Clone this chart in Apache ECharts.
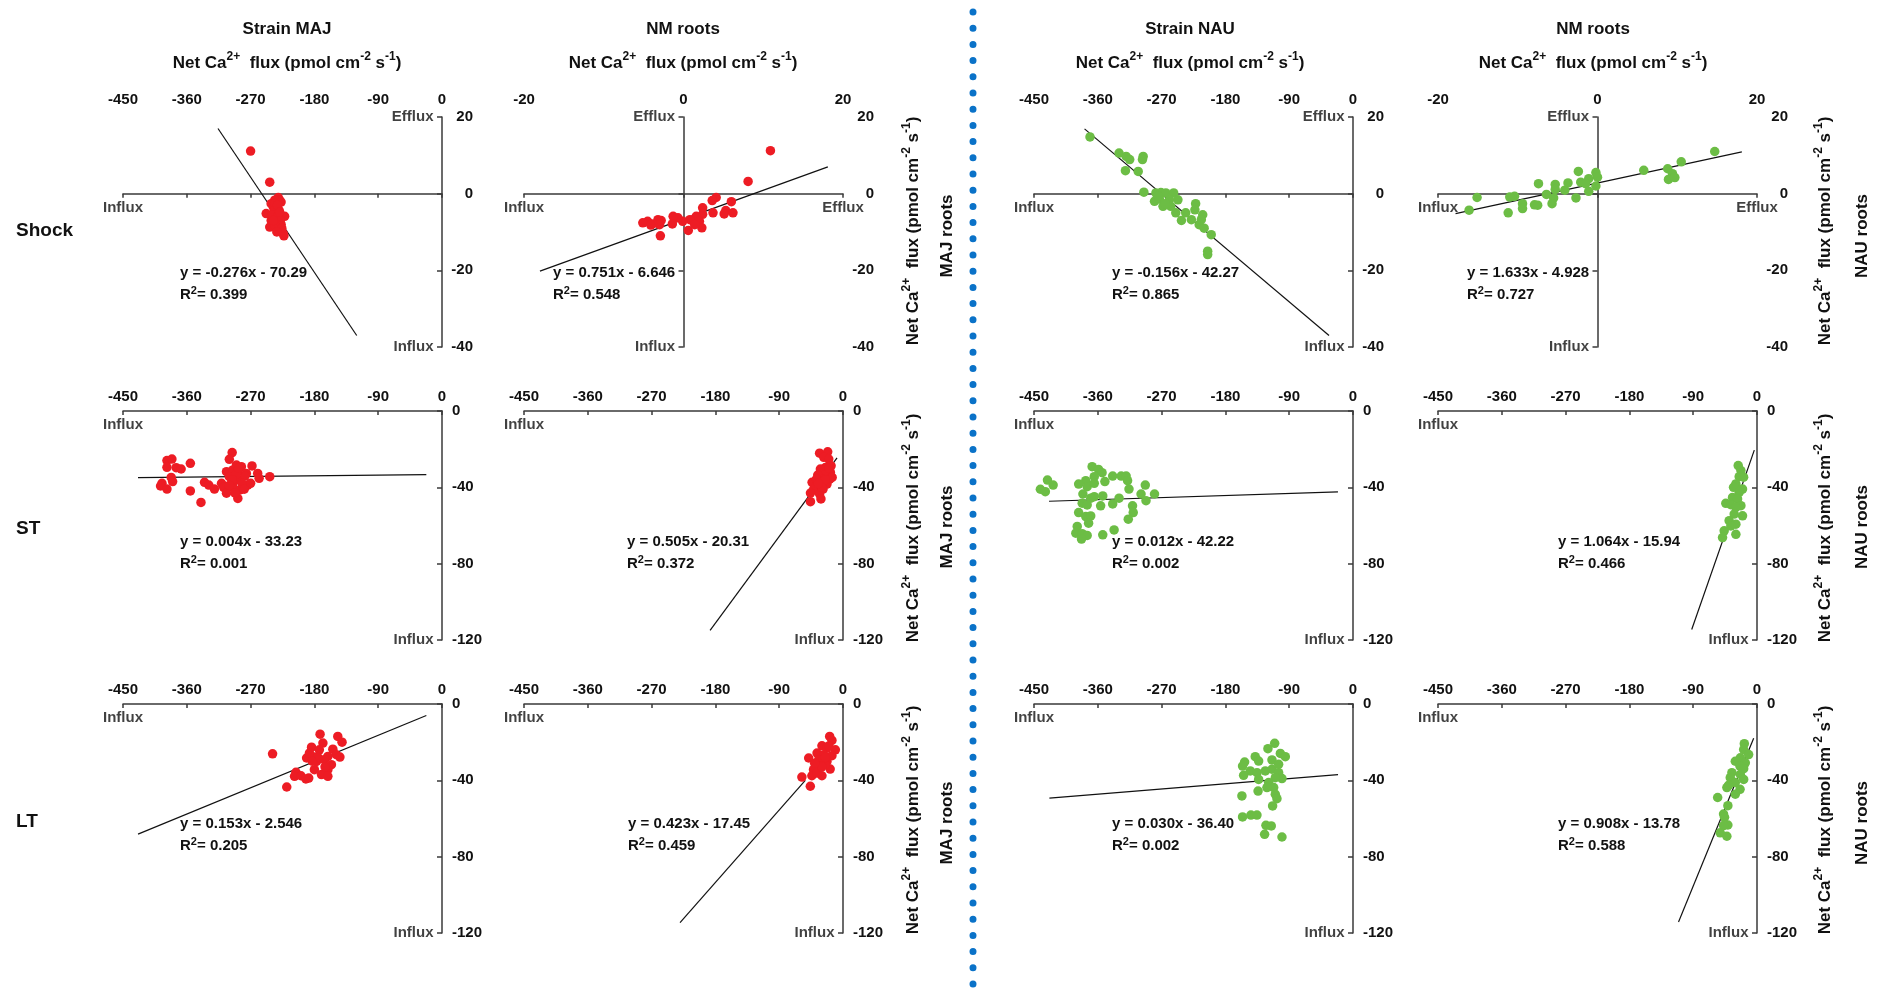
<!DOCTYPE html>
<html>
<head>
<meta charset="utf-8">
<script src="https://cdn.jsdelivr.net/npm/echarts@6/dist/echarts.min.js"></script>
<style>
  html, body { margin: 0; padding: 0; background: #fff; }
  #chart { width: 1877px; height: 991px; }
</style>
</head>
<body>
<div id="chart"></div>
<script>
const FONT = '"Liberation Sans", Arial, Helvetica, sans-serif';
const RED = '#ed1c24';
const GREEN = '#6cbd45';
const AXIS = '#3a3a3a';

// tick labels
const xTicksStrain = [-450, -360, -270, -180, -90, 0];
const xTicksNm = [-20, 0, 20];
const yTicksShock = [-40, -20, 0, 20];
const yTicksStress = [-120, -80, -40, 0];

const rowNames = ['Shock', 'ST', 'LT'];
const colHeads = ['Strain MAJ', 'NM roots', 'Strain NAU', 'NM roots'];
const sideNames = ['MAJ roots', 'NAU roots'];

// --- Shock ---
const majShockX = [-270, -243, -231, -229, -236, -227, -241, -238, -248, -234, -222, -229, -241, -234, -243, -227, -231, -224, -223, -238, -230, -236, -236, -232, -240, -228, -236, -226, -232, -238, -229, -233];
const majShockY = [11.1, 3.0, -1.0, -1.7, -1.7, -2.2, -2.6, -3.5, -5.2, -5.2, -5.9, -6.5, -7.0, -7.4, -8.7, -8.0, -9.6, -10.4, -11.0, -6.1, -4.3, -4.2, -2.5, -3.0, -5.5, -6.9, -8.2, -9.0, -6.0, -7.0, -4.8, -10.0];
const nmMajShockX = [10.9, 8.1, 4.1, 3.6, 6.0, 2.4, 5.3, 6.2, 5.1, 3.7, 2.4, 1.6, 0.8, 2.0, 2.3, 0.6, -0.1, -0.7, -1.3, -1.4, -2.8, -3.2, -3.0, -3.9, -4.5, -5.1, -2.9, -4.1, 1.4];
const nmMajShockY = [11.2, 3.2, -1.0, -1.8, -2.1, -3.7, -4.4, -5.0, -5.3, -5.0, -5.4, -5.9, -6.8, -7.2, -8.9, -9.6, -7.2, -6.3, -5.9, -7.9, -7.0, -6.8, -8.1, -7.9, -7.2, -7.6, -11.0, -8.2, -8.1];
const nauShockX = [-371, -330, -320, -315, -296, -297, -321, -303, -295, -278, -271, -264, -253, -280, -273, -268, -259, -257, -247, -250, -242, -236, -228, -222, -223, -212, -217, -210, -200, -205, -205, -214, -275, -265];
const nauShockY = [14.8, 10.6, 9.7, 8.9, 9.7, 8.9, 6.0, 5.8, 0.4, 0.2, 0.3, 0.2, 0.2, -2.0, -1.4, -3.3, -1.6, -3.3, -1.6, -5.0, -7.0, -5.0, -6.8, -2.6, -4.2, -5.5, -8.1, -9.0, -10.7, -15.0, -15.9, -6.8, -0.7, -2.6];
const nmNauShockX = [14.7, 10.5, 8.8, 9.4, 8.9, 9.7, 5.8, -2.4, -0.2, 0, -1.1, -2.1, -3.7, -1.5, -0.2, -5.3, -7.4, -4.1, -5.3, -1.1, -6.4, -5.5, -2.7, -10.4, -11.0, -15.1, -9.4, -9.4, -7.9, -7.5, -5.7, -11.2, -16.1];
const nmNauShockY = [11.0, 8.3, 6.5, 5.2, 3.7, 4.2, 6.1, 5.8, 5.5, 4.3, 3.9, 3.0, 2.8, 2.6, 2.0, 2.4, 2.6, 0.9, 1.1, 0.6, -0.2, -1.1, -1.1, -0.7, -0.9, -1.0, -2.6, -3.9, -2.9, -3.0, -2.6, -5.0, -4.3];

// --- ST ---
const majStX = [-296, -300, -388, -381, -355, -388, -375, -368, -290, -283, -268, -304, -295, -288, -276, -260, -243, -258, -382, -380, -395, -397, -388, -355, -335, -329, -321, -340, -311, -308, -304, -295, -285, -288, -285, -293, -274, -270, -278, -300, -290, -282, -296, -287, -279, -300, -292];
const majStY = [-21.8, -25.3, -26.0, -25.2, -27.4, -29.5, -29.7, -30.4, -28.3, -29.2, -28.8, -31.8, -30.9, -31.8, -32.7, -32.7, -34.4, -35.3, -34.8, -37.0, -37.9, -39.3, -40.9, -41.9, -37.4, -38.8, -40.9, -47.9, -37.9, -40.0, -43.1, -37.9, -36.2, -45.8, -41.4, -40.9, -38.8, -37.9, -34.1, -34.4, -33.0, -38.0, -36.0, -30.0, -41.0, -39.0, -43.0];
const nmMajStX = [-33, -21.6, -27.1, -20.1, -16.8, -24.8, -31.9, -17.8, -26.2, -35.6, -18.7, -26.2, -43.6, -22.6, -36.5, -41.3, -28.1, -45.9, -33, -45.9, -31.1, -15.3, -29.4, -37.4, -25, -30, -20, -35];
const nmMajStY = [-22.1, -21.4, -24.3, -25.2, -28.7, -29.6, -30.4, -32.2, -33.6, -33.6, -35.7, -37.0, -37.4, -38.3, -39.1, -40.9, -40.9, -43.0, -43.5, -47.5, -46.1, -34.8, -35.7, -35.7, -36, -40, -30, -38];
const nauStX = [-441, -434, -431, -423, -368, -359, -354, -365, -377, -387, -375, -365, -350, -339, -327, -320, -318, -316, -381, -365, -353, -330, -339, -356, -382, -375, -387, -377, -370, -373, -311, -310, -317, -293, -299, -292, -280, -389, -391, -382, -375, -383, -353, -337, -370];
const nauStY = [-41.0, -42.3, -36.2, -38.8, -29.2, -30.6, -32.3, -34.4, -36.5, -38.3, -39.7, -37.9, -37.0, -34.1, -34.1, -34.1, -36.5, -40.9, -43.5, -44.9, -44.5, -45.7, -48.7, -49.7, -48.3, -49.2, -53.2, -55.3, -55.0, -58.8, -49.7, -53.2, -56.7, -38.8, -43.5, -47.0, -43.5, -60.5, -64.0, -64.3, -65.2, -67.1, -64.9, -62.3, -45.7];
const nmNauStX = [-26.5, -22.7, -25.1, -18.9, -29.8, -33.1, -20.4, -25.1, -34.5, -27.4, -44, -36.9, -22.7, -29.8, -20.4, -32.2, -39.3, -29.8, -46.3, -48.6, -29.8, -36.9];
const nmNauStY = [-28.6, -31.2, -34.4, -34.7, -38.2, -40.0, -40.9, -42.6, -45.3, -46.1, -48.4, -49.1, -49.6, -50.5, -54.9, -54.0, -57.5, -59.3, -62.8, -66.3, -64.6, -60.2];

// --- LT ---
const majLtX = [-239, -219, -172, -147, -141, -168, -184, -173, -154, -149, -161, -180, -191, -177, -166, -156, -161, -206, -208, -199, -192, -188, -170, -161, -180, -144, -187, -175, -165, -183];
const majLtY = [-26.1, -43.5, -15.8, -17.0, -20.0, -20.5, -22.6, -24.0, -23.7, -26.6, -27.5, -27.8, -28.3, -30.1, -29.2, -31.8, -34.4, -35.8, -37.9, -37.6, -39.3, -38.8, -37.0, -37.9, -34.4, -27.8, -25.7, -28.0, -33.0, -30.0];
const nmMajLtX = [-18.8, -15.6, -29.7, -22.6, -10.8, -36.6, -27.1, -15.6, -48.4, -34.2, -22.6, -32.2, -18.1, -41.6, -29.7, -43.9, -58, -46.1, -36.6, -24.8, -25, -30, -20, -40];
const nmMajLtY = [-17.0, -19.1, -21.9, -23.1, -24.0, -25.7, -26.6, -27.1, -28.3, -29.2, -30.1, -32.7, -34.1, -34.4, -37.6, -37.6, -38.3, -43.1, -36.2, -31.8, -28, -33, -22, -31];
const nauLtX = [-110.5, -120, -102.5, -95.5, -137.9, -133.1, -114.3, -152.9, -155.8, -144.9, -154.3, -135.4, -123.7, -114.3, -104.9, -100.2, -109.6, -133.1, -119, -111.9, -109.6, -107.3, -133.9, -156.7, -113.4, -155.8, -144, -135.5, -122.8, -115.3, -124.7, -100.2, -121.4, -104.9];
const nauLtY = [-20.6, -23.4, -25.9, -27.6, -27.6, -29.9, -29.3, -30.4, -32.5, -35.1, -37.4, -36.0, -35.1, -34.2, -36.0, -39.1, -38.6, -39.5, -41.2, -43.8, -47.3, -49.6, -45.6, -48.2, -53.4, -59.2, -58.2, -58.2, -63.6, -63.9, -68.3, -69.7, -43.8, -31.6];
const nmNauLtX = [-17.9, -18.8, -11.8, -23.5, -30.6, -16.5, -23.9, -18.8, -35.4, -23.5, -18.8, -37.7, -30.6, -40.1, -23.9, -30.6, -55.5, -41.1, -47.2, -45.8, -41.1, -47.2, -51.9, -42.5, -42.5];
const nmNauLtY = [-20.8, -23.9, -26.5, -28.2, -30.0, -30.8, -32.6, -33.9, -36.0, -36.9, -39.5, -38.6, -41.2, -42.6, -44.7, -47.3, -49.0, -53.3, -57.7, -59.4, -63.4, -63.7, -67.5, -69.3, -43.8];

// regression line end points (as drawn)
const fitLines = [
  [[-316, 17.0], [-120.3, -37.0]],
  [[-18.0, -20.2], [18.1, 7.0]],
  [[-378.7, 16.9], [-33.8, -37.0]],
  [[-17.8, -5.2], [18.1, 10.9]],
  [[-428.8, -34.9], [-22.1, -33.3]],
  [[-187.5, -115], [-8.4, -24.6]],
  [[-428.8, -47.3], [-21.2, -42.4]],
  [[-92.1, -114.5], [-3.8, -20.5]],
  [[-428.8, -68.2], [-22.1, -6.0]],
  [[-229.9, -114.6], [-53.2, -40.0]],
  [[-428.3, -49.3], [-21.1, -37.0]],
  [[-110.7, -114.2], [-4.7, -18.0]]
];
const equations = [
  'y = -0.276x - 70.29', 'y = 0.751x - 6.646', 'y = -0.156x - 42.27', 'y = 1.633x - 4.928',
  'y = 0.004x - 33.23', 'y = 0.505x - 20.31', 'y = 0.012x - 42.22', 'y = 1.064x - 15.94',
  'y = 0.153x - 2.546', 'y = 0.423x - 17.45', 'y = 0.030x - 36.40', 'y = 0.908x - 13.78'
];
const r2Values = ['0.399', '0.548', '0.865', '0.727', '0.001', '0.372', '0.002', '0.466', '0.205', '0.459', '0.002', '0.588'];

const panelX = [majShockX, nmMajShockX, nauShockX, nmNauShockX, majStX, nmMajStX, nauStX, nmNauStX, majLtX, nmMajLtX, nauLtX, nmNauLtX];
const panelY = [majShockY, nmMajShockY, nauShockY, nmNauShockY, majStY, nmMajStY, nauStY, nmNauStY, majLtY, nmMajLtY, nauLtY, nmNauLtY];

// layout
const colLeft = [123, 524, 1034, 1438];
const rowTop = [117, 411, 704];
const gridW = 319;
const gridH = [230, 229, 229];
const eqPos = [
  [180, 273], [553, 273], [1112, 273], [1467, 273],
  [180, 542], [627, 542], [1112, 542], [1558, 542],
  [180, 824], [628, 824], [1112, 824], [1558, 824]
];

const txt = { color: '#111', fontSize: 15, fontWeight: 'bold', fontFamily: FONT };

const chart = echarts.init(document.getElementById('chart'));
const grid = [], xAxis = [], yAxis = [], series = [], graphic = [];

panelX.forEach((xs, i) => {
  const r = Math.floor(i / 4), c = i % 4;
  const xt = (r === 0 && c % 2 === 1) ? xTicksNm : xTicksStrain;
  const yt = r === 0 ? yTicksShock : yTicksStress;
  const xr = { min: xt[0], max: xt[xt.length - 1], interval: xt[1] - xt[0] };
  const yr = { min: yt[0], max: yt[yt.length - 1], interval: yt[1] - yt[0] };
  grid.push({ left: colLeft[c], top: rowTop[r], width: gridW, height: gridH[r] });

  // x: labels on top, line crossing at y = 0
  xAxis.push({
    type: 'value', gridIndex: i, position: 'top', ...xr,
    axisLine: { show: false, onZero: false }, axisTick: { show: false }, splitLine: { show: false },
    axisLabel: { ...txt, margin: r === 0 ? 10 : 7 }
  });
  xAxis.push({
    type: 'value', gridIndex: i, position: 'bottom', ...xr,
    axisLine: { onZero: true, onZeroAxisIndex: 2 * i, lineStyle: { color: AXIS, width: 1.5 } },
    axisTick: { show: true, length: 4, lineStyle: { color: AXIS, width: 1.5 } },
    axisLabel: { show: false }, splitLine: { show: false }
  });
  // y: labels on the right, line crossing at x = 0
  yAxis.push({
    type: 'value', gridIndex: i, position: 'right', ...yr,
    axisLine: { show: false, onZero: false }, axisTick: { show: false }, splitLine: { show: false },
    axisLabel: { ...txt, margin: r === 0 ? 31 : 10, align: r === 0 ? 'right' : 'left' }
  });
  yAxis.push({
    type: 'value', gridIndex: i, position: 'right', ...yr,
    axisLine: { onZero: true, onZeroAxisIndex: 2 * i, lineStyle: { color: AXIS, width: 1.5 } },
    axisTick: { show: true, inside: true, length: 5, lineStyle: { color: AXIS, width: 1.5 } },
    axisLabel: { show: false }, splitLine: { show: false }
  });

  const xi = 2 * i + 1, yi = 2 * i + 1;
  series.push({
    type: 'line', xAxisIndex: xi, yAxisIndex: yi, data: fitLines[i], symbol: 'none',
    lineStyle: { color: '#111', width: 1.2 }, silent: true, z: 2
  });
  series.push({
    type: 'scatter', xAxisIndex: xi, yAxisIndex: yi, symbolSize: 9.5,
    data: xs.map((x, k) => [x, panelY[i][k]]),
    itemStyle: { color: c < 2 ? RED : GREEN, opacity: 1 }, z: 3
  });

  // Influx / Efflux tags at the axis ends
  const tags = [[xr.min, 0, 'Influx', 'bottom'], [0, yr.min, 'Influx', 'left']];
  if (r === 0) tags.push([0, yr.max, 'Efflux', 'left']);
  if (xr.max > 0) tags.push([xr.max, 0, 'Efflux', 'bottom']);
  series.push({
    type: 'scatter', xAxisIndex: xi, yAxisIndex: yi, symbolSize: 1, silent: true, z: 4,
    itemStyle: { color: 'rgba(0,0,0,0)' },
    data: tags.map(t => ({
      value: [t[0], t[1]],
      label: { show: true, formatter: t[2], position: t[3], distance: t[3] === 'bottom' ? 6 : 8, ...txt }
    }))
  });

  // equation + R2
  graphic.push({
    type: 'text', x: eqPos[i][0], y: eqPos[i][1],
    style: { text: equations[i], font: 'bold 15px ' + FONT, fill: '#111', align: 'left', verticalAlign: 'middle', textAlign: 'left', textVerticalAlign: 'middle' }
  });
  graphic.push({
    type: 'text', x: eqPos[i][0], y: eqPos[i][1] + 22,
    style: {
      text: 'R{s|2}= ' + r2Values[i], font: 'bold 15px ' + FONT, fill: '#111', lineHeight: 20,
      align: 'left', verticalAlign: 'middle', textAlign: 'left', textVerticalAlign: 'middle',
      rich: { s: { fontSize: 11, fontWeight: 'bold', fontFamily: FONT, fill: '#111', color: '#111', lineHeight: 11, verticalAlign: 'top' } }
    }
  });
});

const sup = { fontSize: 12, fontWeight: 'bold', fontFamily: FONT, fill: '#111', color: '#111', lineHeight: 12, verticalAlign: 'top' };
const fluxText = 'Net Ca{s|2+}  flux (pmol cm{s|-2} s{s|-1})';
function label(x, y, text, size, rot) {
  return {
    type: 'text', x: x, y: y, rotation: rot || 0,
    style: {
      text: text, font: 'bold ' + size + 'px ' + FONT, fill: '#111', lineHeight: 24,
      align: 'center', verticalAlign: 'middle', textAlign: 'center', textVerticalAlign: 'middle',
      rich: { s: sup }
    }
  };
}

// column headers
const headX = [287, 683, 1190, 1593];
colHeads.forEach((h, c) => {
  graphic.push(label(headX[c], 29, h, 17));
  graphic.push(label(headX[c], 63, fluxText, 17));
});
// row names
const rowY = [231, 529, 822];
rowNames.forEach((n, r) => {
  graphic.push({ type: 'text', x: 16, y: rowY[r], style: { text: n, font: 'bold 19px ' + FONT, fill: '#111', align: 'left', verticalAlign: 'middle', textAlign: 'left', textVerticalAlign: 'middle' } });
});
// right-hand axis titles
const sideFluxX = [913, 1825];
const sideNameX = [947, 1862];
const sideFluxY = [231, 528, 820];
const sideNameY = [236, 527, 823];
[0, 1].forEach(s => {
  [0, 1, 2].forEach(r => {
    graphic.push(label(sideFluxX[s], sideFluxY[r], fluxText, 17, Math.PI / 2));
    graphic.push(label(sideNameX[s], sideNameY[r], sideNames[s], 17, Math.PI / 2));
  });
});
// blue dotted divider
graphic.push({
  type: 'line', shape: { x1: 973, y1: 12, x2: 973, y2: 991 },
  style: { stroke: '#0a72c8', lineWidth: 7, lineDash: [0, 16.2], lineCap: 'round' }
});

chart.setOption({
  animation: false,
  backgroundColor: '#fff',
  grid, xAxis, yAxis, series, graphic
});
</script>
</body>
</html>
